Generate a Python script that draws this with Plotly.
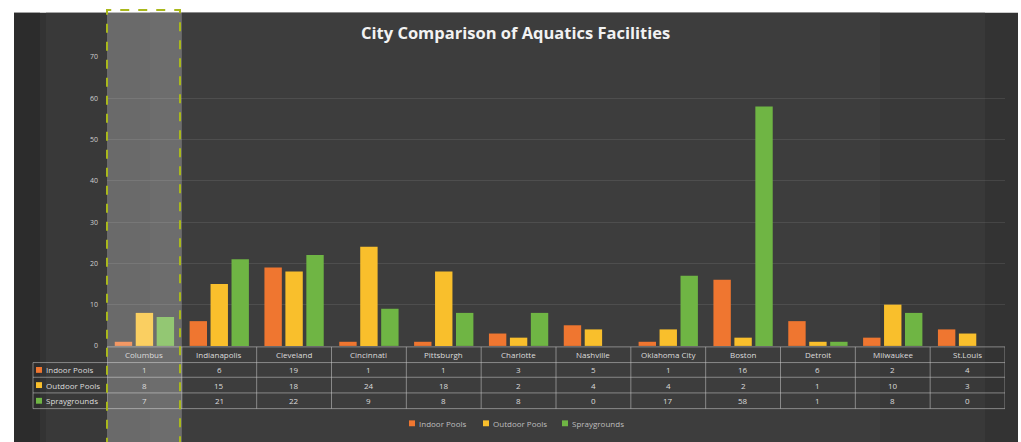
import plotly.graph_objects as go

cities = ["Columbus", "Indianapolis", "Cleveland", "Cincinnati", "Pittsburgh", "Charlotte",
          "Nashville", "Oklahoma City", "Boston", "Detroit", "Milwaukee", "St.Louis"]
indoor_pools = [1, 6, 19, 1, 1, 3, 5, 1, 16, 6, 2, 4]
outdoor_pools = [8, 15, 18, 24, 18, 2, 4, 4, 2, 1, 10, 3]
spraygrounds = [7, 21, 22, 9, 8, 8, 0, 17, 58, 1, 8, 0]
series_names = ["Indoor Pools", "Outdoor Pools", "Spraygrounds"]
series_values = [indoor_pools, outdoor_pools, spraygrounds]
colors = ["#ef7630", "#f9bf2c", "#6fb544"]
y_ticks = [0, 10, 20, 30, 40, 50, 60, 70]
title = "City Comparison of Aquatics Facilities"

W, H = 1021, 442
def px(x):
    return x / W
def py(y):
    return 1 - y / H

FONT = "Open Sans"
fig = go.Figure()
for name, vals, col in zip(series_names, series_values, colors):
    fig.add_trace(go.Bar(x=cities, y=vals, name=name, marker=dict(color=col, line=dict(width=0)),
                         hoverinfo="skip", showlegend=False))

shapes = []
# background with mild vignette
shapes.append(dict(type="rect", xref="paper", yref="paper", x0=px(14), x1=px(1018), y0=-0.01, y1=py(8),
                   fillcolor="#333333", line=dict(width=0), layer="below"))
shapes.append(dict(type="rect", xref="paper", yref="paper", x0=px(46), x1=px(985), y0=-0.01, y1=py(8),
                   fillcolor="#393939", line=dict(width=0), layer="below"))
shapes.append(dict(type="rect", xref="paper", yref="paper", x0=px(150), x1=px(880), y0=-0.01, y1=py(8),
                   fillcolor="#3d3d3d", line=dict(width=0), layer="below"))
shapes.append(dict(type="rect", xref="paper", yref="paper", x0=px(14), x1=px(40), y0=-0.01, y1=py(8),
                   fillcolor="#2c2c2c", line=dict(width=0), layer="below"))

# table lines
line_col = "rgba(200,200,200,0.55)"
table_left, table_right = 33, 1005
rows_y = [349, 365, 380, 396, 412]
for i, yy in enumerate(rows_y):
    x0 = px(107) if i == 0 else px(table_left)
    shapes.append(dict(type="line", xref="paper", yref="paper", x0=x0, x1=px(table_right),
                       y0=py(yy), y1=py(yy), line=dict(color=line_col, width=1)))
for k in range(len(cities) + 1):
    shapes.append(dict(type="line", xref="x", yref="paper", x0=k - 0.5, x1=k - 0.5,
                       y0=py(349), y1=py(412), line=dict(color=line_col, width=1)))
shapes.append(dict(type="line", xref="paper", yref="paper", x0=px(table_left), x1=px(table_left),
                   y0=py(365), y1=py(412), line=dict(color=line_col, width=1)))

# highlight column
shapes.append(dict(type="rect", xref="x", yref="paper", x0=-0.5, x1=0.5, y0=-0.02, y1=py(5),
                   fillcolor="rgba(255,255,255,0.25)", line=dict(width=0), layer="above"))
shapes.append(dict(type="path", xref="paper", yref="paper",
                   path=f"M {px(107)},-0.02 L {px(107)},{py(5)} L {px(180)},{py(5)} L {px(180)},-0.02",
                   line=dict(color="#a9b81c", width=2, dash="dash"), layer="above"))

annotations = []
annotations.append(dict(text=f"<b>{title}</b>", xref="paper", yref="paper", x=px(515), y=py(28),
                        xanchor="center", yanchor="middle",
                        showarrow=False, font=dict(family=FONT, size=16.5, color="#f2f2f2")))
txt_col = "#dcdcdc"
# header
for c in cities:
    annotations.append(dict(text=c, xref="x", yref="paper", x=c, y=py(357), showarrow=False,
                            xanchor="center", yanchor="middle",
                            font=dict(family=FONT, size=8, color=txt_col)))
row_centers = [372.5, 388, 404]
for name, vals, col, yc in zip(series_names, series_values, colors, row_centers):
    shapes.append(dict(type="rect", xref="paper", yref="paper", x0=px(36), x1=px(42),
                       y0=py(yc + 3), y1=py(yc - 3), fillcolor=col, line=dict(width=0)))
    annotations.append(dict(text=name, xref="paper", yref="paper", x=px(44), y=py(yc),
                            xanchor="left", yanchor="middle", showarrow=False,
                            font=dict(family=FONT, size=8, color=txt_col)))
    for c, v in zip(cities, vals):
        annotations.append(dict(text=str(v), xref="x", yref="paper", x=c, y=py(yc), showarrow=False,
                                xanchor="center", yanchor="middle",
                                font=dict(family=FONT, size=8, color=txt_col)))

# custom legend (small squares)
legend_x = [409, 483, 562]
for name, col, lx in zip(series_names, colors, legend_x):
    shapes.append(dict(type="rect", xref="paper", yref="paper", x0=px(lx), x1=px(lx + 6),
                       y0=py(430), y1=py(424), fillcolor=col, line=dict(width=0)))
    annotations.append(dict(text=name, xref="paper", yref="paper", x=px(lx + 8), y=py(427),
                            xanchor="left", yanchor="middle", showarrow=False,
                            font=dict(family=FONT, size=8, color="#bdbdbd")))

fig.update_layout(
    width=W, height=H,
    margin=dict(l=0, r=0, t=0, b=0),
    paper_bgcolor="white", plot_bgcolor="rgba(0,0,0,0)",
    barmode="group", bargap=0.16, bargroupgap=0.17,
    shapes=shapes, annotations=annotations,
    showlegend=False,
    xaxis=dict(domain=[px(107), px(1005)], showticklabels=False, showgrid=False, zeroline=False,
               showline=False, range=[-0.5, len(cities) - 0.5]),
    yaxis=dict(domain=[py(348), py(53)], range=[0, 70], tickvals=y_ticks, showgrid=True,
               gridcolor="rgba(255,255,255,0.09)", gridwidth=1, zeroline=False, showline=False,
               tickfont=dict(family=FONT, size=7, color="#d0d0d0"), ticks="",
               ticklabelstandoff=8),
)
fig.write_html("out.html", config={"displayModeBar": False},
               post_script="document.body.style.margin='0';document.body.style.overflow='hidden';")
